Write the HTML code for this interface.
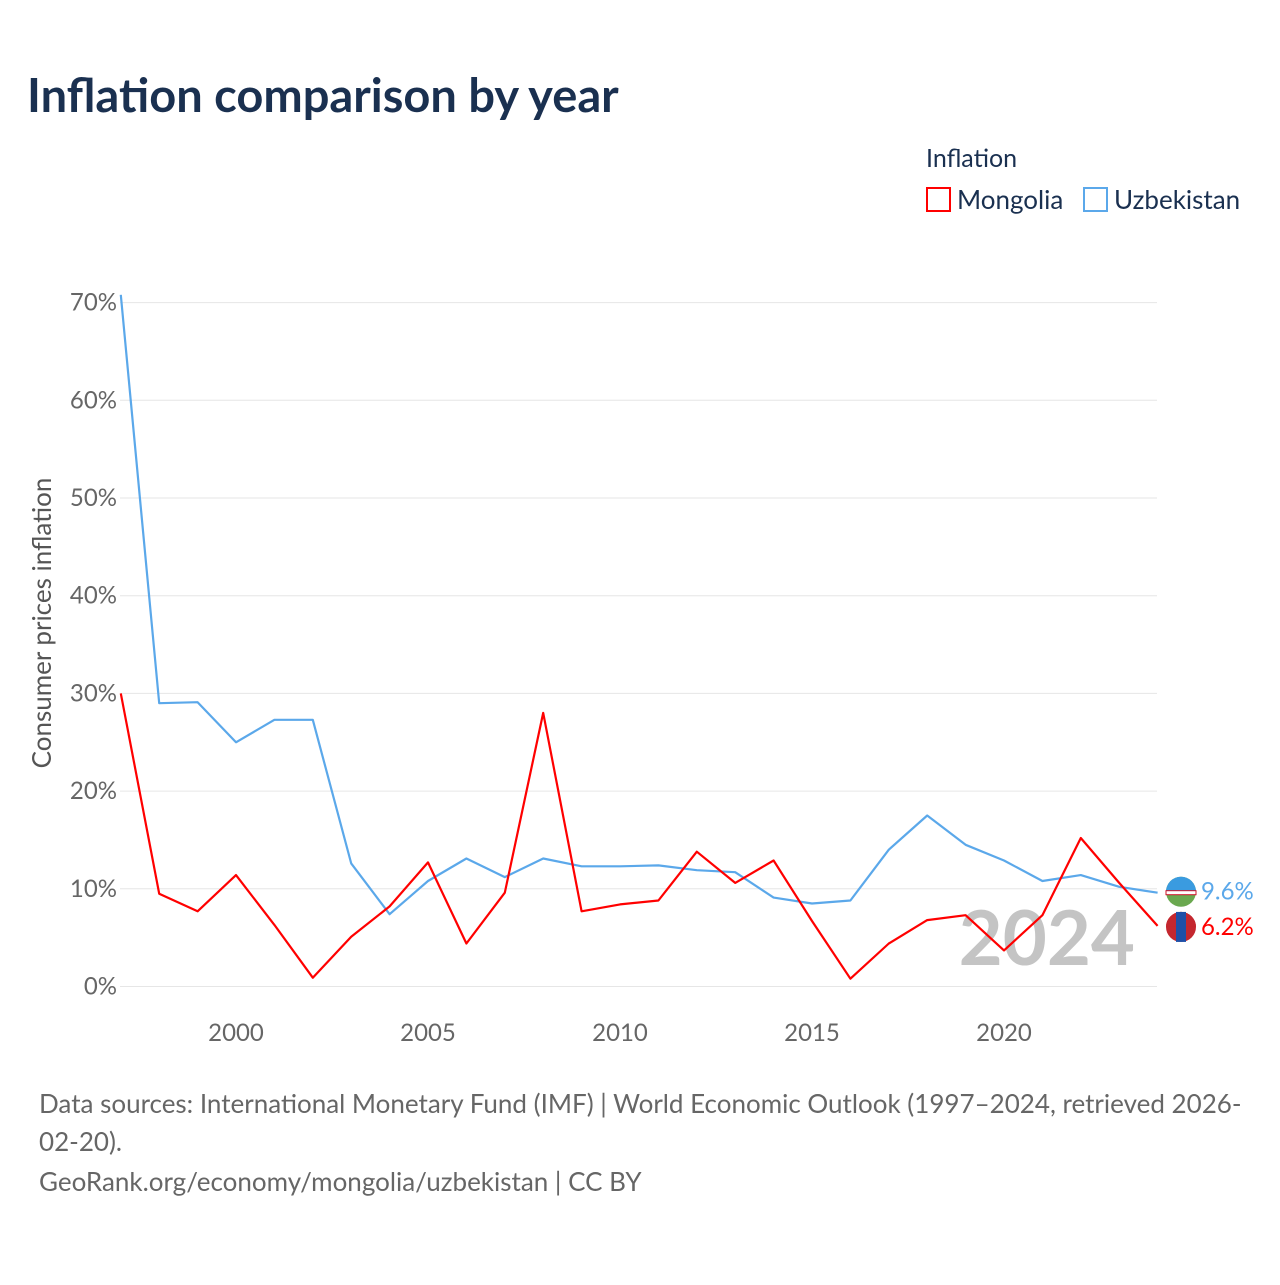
<!DOCTYPE html>
<html><head><meta charset="utf-8"><style>
body{margin:0;background:#fff;font-family:"Liberation Sans",sans-serif}
svg text{font-family:"Lato","Liberation Sans",sans-serif}
</style></head><body>
<svg id="chart" width="1280" height="1280" viewBox="0 0 1280 1280" xmlns="http://www.w3.org/2000/svg">
<rect width="1280" height="1280" fill="#fff"/>
<text x="27" y="112" font-size="47" font-weight="bold" fill="#1a3050">Inflation comparison by year</text>
<text x="926" y="167" font-size="25" fill="#1a3050">Inflation</text>
<g><rect x="927" y="188" width="23" height="23" fill="none" stroke="#ff0000" stroke-width="2"/><text x="957" y="209" font-size="26" fill="#1a3050">Mongolia</text></g>
<g><rect x="1084" y="188" width="23" height="23" fill="none" stroke="#5ba8ea" stroke-width="2"/><text x="1114" y="209" font-size="26" fill="#1a3050">Uzbekistan</text></g>
<g id="grid"></g>
<g id="axes"></g>
<text x="1135" y="965" text-anchor="end" font-size="76" font-weight="bold" fill="#c4c4c4">2024</text>
<g id="series"></g>
<text transform="translate(51,623) rotate(-90)" text-anchor="middle" font-size="26" fill="#555">Consumer prices inflation</text>
<text font-size="26" fill="#666"><tspan x="39" y="1113">Data sources: International Monetary Fund (IMF) | World Economic Outlook (1997–2024, retrieved 2026-</tspan><tspan x="39" y="1151">02-20).</tspan><tspan x="39" y="1191">GeoRank.org/economy/mongolia/uzbekistan | CC BY</tspan></text>
</svg>
<script>
const years=[1997,1998,1999,2000,2001,2002,2003,2004,2005,2006,2007,2008,2009,2010,2011,2012,2013,2014,2015,2016,2017,2018,2019,2020,2021,2022,2023,2024];
const mongolia=[30.0,9.5,7.7,11.4,6.3,0.9,5.1,8.2,12.7,4.4,9.6,28.0,7.7,8.4,8.8,13.8,10.6,12.9,6.7,0.8,4.4,6.8,7.3,3.7,7.3,15.2,10.6,6.2];
const uzbekistan=[70.8,29.0,29.1,25.0,27.3,27.3,12.6,7.4,10.8,13.1,11.2,13.1,12.3,12.3,12.4,11.9,11.7,9.1,8.5,8.8,14.0,17.5,14.5,12.9,10.8,11.4,10.2,9.6];
const yTicks=[0,10,20,30,40,50,60,70];
const xTicks=[2000,2005,2010,2015,2020];
const NS="http://www.w3.org/2000/svg";
const X=y=>120.8+(y-1997)*38.4;
const Y=v=>986.5-v*9.77;
function mk(t,a,p){const e=document.createElementNS(NS,t);for(const k in a)e.setAttribute(k,a[k]);p.appendChild(e);return e;}
const grid=document.getElementById('grid'),axes=document.getElementById('axes'),ser=document.getElementById('series');
yTicks.forEach(v=>{
 const l=mk('line',{x1:120,x2:1157,y1:Y(v),y2:Y(v),stroke:'#e6e6e6','stroke-width':1},grid);
 
 
 const t=mk('text',{x:117,y:Y(v)+8,'text-anchor':'end','font-size':24,fill:'#666'},axes);
 t.textContent=v+'%';
 
 
});
xTicks.forEach(v=>{
 const t=mk('text',{x:X(v),y:1041,'text-anchor':'middle','font-size':24,fill:'#666'},axes);
 t.textContent=v;
 
 
});
function line(vals,color,name){
 const d=vals.map((v,i)=>(i?'L':'M')+X(years[i]).toFixed(1)+','+Y(v).toFixed(1)).join('');
 const p=mk('path',{d:d,fill:'none',stroke:color,'stroke-width':2.2,'stroke-linejoin':'round'},ser);
 
 
}
line(uzbekistan,'#5ba8ea','uzbekistan');
line(mongolia,'#ff0000','mongolia');
function endMark(vals,color,name,flagTop,flagBot,yoff){
 const v=vals[vals.length-1],cx=1181,cy=Y(v)+yoff;
 const g=mk('g',{},ser);
 
 
 mk('circle',{cx:cx,cy:cy,r:15,fill:flagBot},g);
 mk('path',{d:`M${cx-15},${cy} A15,15 0 0 1 ${cx+15},${cy} Z`,fill:flagTop},g);
 const t=mk('text',{x:1201,y:cy+8,'font-size':24,fill:color},ser);
 t.textContent=v.toFixed(1)+'%';
 
 
}
endMark(uzbekistan,'#5ba8ea','uzbekistan','#3a9be0','#6aa84f',-1);
endMark(mongolia,'#ff0000','mongolia','#c4272f','#c4272f',1);
const mf=mk('rect',{x:1176,y:Y(6.2)-14,width:10,height:30,fill:'#1e50a8'},ser);


const uf=mk('rect',{x:1166,y:Y(9.6)-2,width:30,height:4,fill:'#fff',stroke:'#ce1126','stroke-width':1},ser);


</script>
</body></html>
